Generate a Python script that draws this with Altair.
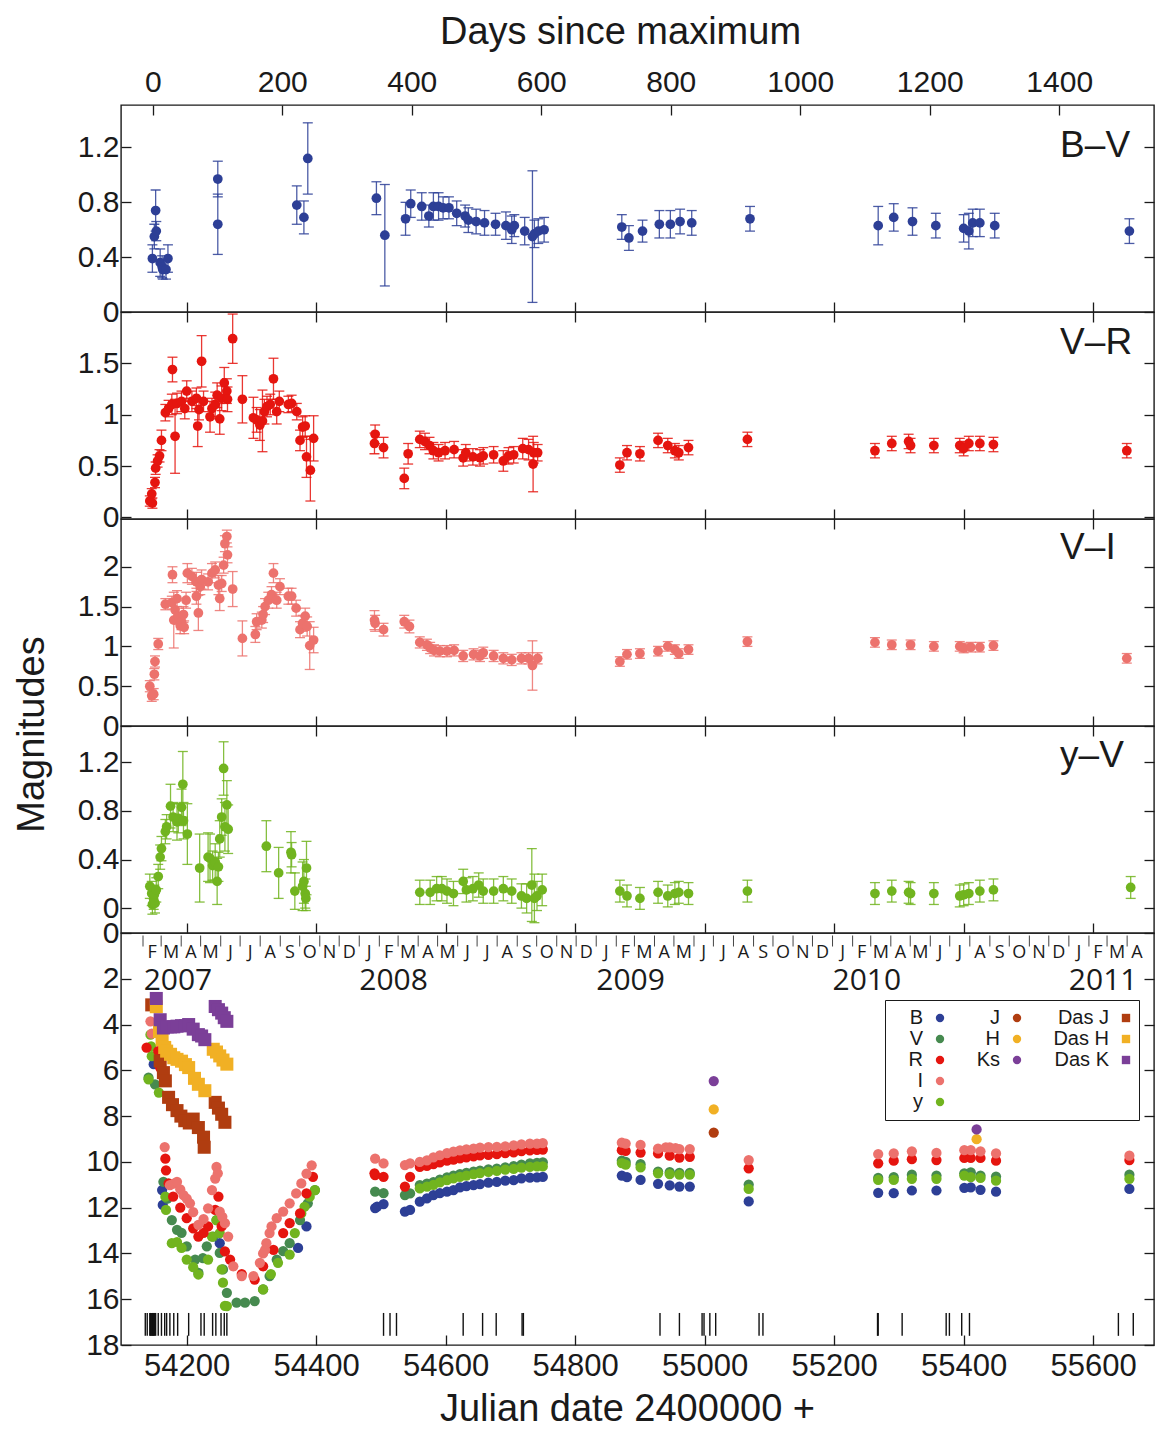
import altair as alt
import pandas as pd

# ------------------------------------------------------------------
# Values (x values are JD - 2400000)
# ------------------------------------------------------------------
JD_MAX = 54147.6
X_DOMAIN = [54098.5, 55694.0]
JD_TICKS = [54200, 54400, 54600, 54800, 55000, 55200, 55400, 55600]
DAY_TICKS = [0, 200, 400, 600, 800, 1000, 1200, 1400]

# ---- B-V ----
bv_jd = [54147, 54150, 54152, 54153, 54159, 54162, 54163, 54168, 54171, 54248, 54248, 54370, 54381, 54387,
         54493, 54506, 54538, 54546, 54563, 54574, 54581, 54589, 54596, 54605, 54617, 54630, 54635, 54647,
         54660, 54677, 54693, 54702, 54706, 54722, 54734, 54737, 54743, 54752, 54872, 54883, 54904, 54930,
         54947, 54962, 54980, 55070, 55268, 55292, 55321, 55357, 55400, 55408, 55414, 55425, 55448, 55656]
bv_val = [0.39, 0.55, 0.74, 0.59, 0.36, 0.33, 0.31, 0.31, 0.39, 0.97, 0.64, 0.78, 0.69, 1.12,
          0.83, 0.56, 0.68, 0.79, 0.77, 0.70, 0.77, 0.77, 0.76, 0.76, 0.72, 0.70, 0.67, 0.66,
          0.65, 0.64, 0.63, 0.60, 0.63, 0.59, 0.55, 0.57, 0.59, 0.60, 0.62, 0.54, 0.59, 0.64,
          0.64, 0.66, 0.65, 0.68, 0.63, 0.69, 0.66, 0.63, 0.61, 0.59, 0.65, 0.65, 0.63, 0.59]
bv_err = [0.10, 0.09, 0.15, 0.07, 0.10, 0.08, 0.07, 0.07, 0.10, 0.13, 0.22, 0.14, 0.12, 0.26,
          0.12, 0.37, 0.12, 0.10, 0.10, 0.08, 0.10, 0.10, 0.08, 0.08, 0.09, 0.08, 0.09, 0.09,
          0.09, 0.08, 0.10, 0.10, 0.08, 0.10, 0.48, 0.10, 0.09, 0.09, 0.09, 0.09, 0.08, 0.10,
          0.10, 0.09, 0.09, 0.09, 0.14, 0.10, 0.10, 0.09, 0.10, 0.13, 0.10, 0.10, 0.09, 0.09]

# ---- V-R ----
vr_jd = [54143, 54146, 54147, 54151, 54152, 54155, 54158, 54161, 54167, 54172,
         54177, 54178, 54182, 54185, 54192, 54197, 54200, 54208, 54215, 54217,
         54219, 54223, 54226, 54236, 54239, 54244, 54247, 54251, 54254, 54258,
         54262, 54263, 54271, 54286, 54303, 54308, 54313, 54317, 54320, 54324,
         54329, 54334, 54339, 54343, 54357, 54362, 54370, 54375, 54379, 54383,
         54385, 54391, 54396,
         54490, 54491, 54504, 54536, 54542, 54560, 54568, 54575, 54581, 54589,
         54599, 54613, 54627, 54631, 54642, 54653, 54658, 54674, 54689, 54697,
         54705, 54719, 54728, 54735, 54736, 54742,
         54869, 54880, 54900, 54928, 54943, 54954, 54960, 54975, 55066,
         55263, 55289, 55315, 55318, 55354, 55394, 55400, 55408, 55425, 55446, 55652]
vr_val = [0.16, 0.23, 0.14, 0.34, 0.48, 0.55, 0.60, 0.75, 1.02, 1.06,
          1.10, 1.44, 0.79, 1.11, 1.13, 1.06, 1.23, 1.13, 1.16, 0.89,
          1.05, 1.52, 1.13, 0.98, 1.06, 1.10, 1.19, 0.96, 1.16, 1.31,
          1.23, 1.15, 1.74, 1.15, 0.97, 0.95, 0.90, 0.94, 1.03, 1.08,
          1.10, 1.35, 1.03, 1.13, 1.10, 1.11, 1.03, 0.75, 0.88, 0.89,
          0.59, 0.46, 0.77,
          0.72, 0.81, 0.68, 0.38, 0.62, 0.76, 0.74, 0.70, 0.65, 0.63,
          0.65, 0.66, 0.58, 0.63, 0.59, 0.58, 0.60, 0.61, 0.55, 0.60,
          0.61, 0.67, 0.66, 0.52, 0.63, 0.63,
          0.51, 0.63, 0.62, 0.75, 0.70, 0.65, 0.63, 0.68, 0.76,
          0.65, 0.72, 0.74, 0.70, 0.70, 0.70, 0.67, 0.72, 0.72, 0.71, 0.65]
vr_err = [0.05, 0.05, 0.05, 0.05, 0.06, 0.06, 0.06, 0.10, 0.08, 0.08,
          0.10, 0.12, 0.36, 0.10, 0.10, 0.10, 0.10, 0.10, 0.10, 0.20,
          0.10, 0.25, 0.10, 0.15, 0.10, 0.12, 0.12, 0.15, 0.12, 0.15,
          0.12, 0.12, 0.24, 0.23, 0.20, 0.12, 0.15, 0.30, 0.12, 0.10,
          0.10, 0.20, 0.12, 0.10, 0.08, 0.08, 0.08, 0.10, 0.10, 0.10,
          0.20, 0.30, 0.22,
          0.10, 0.09, 0.10, 0.10, 0.10, 0.08, 0.08, 0.08, 0.08, 0.08,
          0.08, 0.08, 0.08, 0.08, 0.08, 0.08, 0.08, 0.08, 0.10, 0.08,
          0.08, 0.10, 0.10, 0.27, 0.10, 0.08,
          0.07, 0.07, 0.07, 0.07, 0.07, 0.07, 0.07, 0.07, 0.07,
          0.07, 0.07, 0.07, 0.07, 0.07, 0.07, 0.07, 0.07, 0.07, 0.07, 0.07]

# ---- V-I ----
vi_jd = [54143, 54146, 54149, 54150, 54151, 54156, 54167, 54177, 54178, 54180,
         54182, 54185, 54187, 54190, 54192, 54195, 54196, 54199, 54201, 54208,
         54215, 54215, 54218, 54221, 54223, 54233, 54239, 54244, 54249, 54251,
         54254, 54257, 54259, 54262, 54263, 54271, 54286, 54306, 54308, 54316,
         54318, 54321, 54326, 54331, 54334, 54339, 54344, 54357, 54362, 54369,
         54375, 54379, 54383, 54386, 54390, 54396,
         54490, 54491, 54504, 54536, 54544, 54560, 54571, 54576, 54582, 54591,
         54602, 54613, 54627, 54643, 54653, 54658, 54674, 54689, 54702, 54717,
         54728, 54734, 54742,
         54869, 54880, 54900, 54928, 54943, 54954, 54960, 54975, 55066, 55263,
         55289, 55318, 55354, 55394, 55400, 55411, 55425, 55446, 55652]
vi_val = [0.50, 0.38, 0.40, 0.65, 0.81, 1.03, 1.53, 1.55, 1.90, 1.33,
          1.46, 1.60, 1.38, 1.26, 1.31, 1.40, 1.24, 1.58, 1.92, 1.88,
          1.63, 1.81, 1.42, 1.75, 1.84, 1.81, 1.92, 1.96, 1.77, 1.60,
          1.79, 2.02, 2.29, 2.38, 2.15, 1.72, 1.10, 1.15, 1.31, 1.33,
          1.40, 1.50, 1.58, 1.65, 1.92, 1.58, 1.75, 1.63, 1.63, 1.48,
          1.21, 1.29, 1.38, 1.25, 1.01, 1.08,
          1.33, 1.29, 1.21, 1.31, 1.25, 1.05, 1.02, 0.98, 0.95, 0.94,
          0.94, 0.95, 0.88, 0.90, 0.88, 0.92, 0.88, 0.85, 0.83, 0.85,
          0.85, 0.76, 0.85,
          0.81, 0.90, 0.91, 0.94, 1.00, 0.96, 0.91, 0.96, 1.06, 1.05,
          1.02, 1.02, 1.00, 1.00, 0.98, 0.99, 0.99, 1.01, 0.85]
vi_err = [0.07, 0.07, 0.07, 0.07, 0.07, 0.07, 0.07, 0.08, 0.10, 0.35,
          0.10, 0.10, 0.10, 0.10, 0.10, 0.10, 0.08, 0.10, 0.12, 0.10,
          0.10, 0.12, 0.22, 0.10, 0.12, 0.10, 0.12, 0.10, 0.12, 0.15,
          0.10, 0.10, 0.10, 0.08, 0.10, 0.22, 0.22, 0.10, 0.10, 0.10,
          0.10, 0.10, 0.10, 0.10, 0.12, 0.10, 0.10, 0.10, 0.10, 0.10,
          0.10, 0.10, 0.10, 0.12, 0.30, 0.16,
          0.12, 0.10, 0.08, 0.08, 0.08, 0.07, 0.07, 0.07, 0.07, 0.07,
          0.07, 0.07, 0.07, 0.07, 0.07, 0.07, 0.07, 0.07, 0.07, 0.07,
          0.07, 0.31, 0.07,
          0.06, 0.06, 0.06, 0.06, 0.06, 0.06, 0.06, 0.06, 0.06, 0.06,
          0.06, 0.06, 0.06, 0.06, 0.06, 0.06, 0.06, 0.06, 0.06]

# ---- y-V ----
yv_jd = [54143, 54146, 54147, 54149, 54150, 54151, 54153, 54156, 54159, 54161,
         54167, 54169, 54175, 54179, 54185, 54187, 54192, 54194, 54195, 54201,
         54220, 54233, 54236, 54240, 54244, 54247, 54249, 54251, 54254, 54257,
         54259, 54262, 54264, 54323, 54342, 54361, 54362, 54367, 54379, 54381,
         54383, 54385, 54384,
         54560, 54576, 54586, 54594, 54602, 54612, 54627, 54632, 54642, 54651,
         54658, 54674, 54689, 54702, 54717, 54725, 54733, 54737, 54741, 54749,
         54869, 54880, 54900, 54928, 54943, 54954, 54960, 54975, 55066, 55263,
         55289, 55315, 55318, 55354, 55394, 55400, 55408, 55425, 55446, 55658]
yv_val = [0.18, 0.12, 0.03, 0.07, 0.11, 0.04, 0.15, 0.26, 0.42, 0.49,
          0.63, 0.67, 0.84, 0.75, 0.71, 0.74, 0.83, 1.02, 0.72, 0.61,
          0.33, 0.42, 0.41, 0.35, 0.38, 0.22, 0.34, 0.57, 0.75, 1.15,
          0.67, 0.85, 0.65, 0.51, 0.29, 0.46, 0.44, 0.14, 0.18, 0.22,
          0.12, 0.33, 0.08,
          0.13, 0.13, 0.16, 0.16, 0.14, 0.12, 0.22, 0.15, 0.16, 0.19,
          0.14, 0.14, 0.16, 0.14, 0.10, 0.08, 0.19, 0.08, 0.10, 0.15,
          0.14, 0.10, 0.08, 0.13, 0.10, 0.12, 0.13, 0.12, 0.14, 0.12,
          0.14, 0.13, 0.12, 0.12, 0.10, 0.11, 0.12, 0.14, 0.15, 0.17]
yv_err = [0.10, 0.10, 0.08, 0.08, 0.08, 0.08, 0.10, 0.10, 0.10, 0.10,
          0.10, 0.10, 0.18, 0.12, 0.15, 0.12, 0.15, 0.27, 0.15, 0.25,
          0.28, 0.20, 0.20, 0.12, 0.15, 0.19, 0.12, 0.15, 0.15, 0.22,
          0.20, 0.20, 0.20, 0.21, 0.21, 0.17, 0.10, 0.15, 0.20, 0.18,
          0.12, 0.22, 0.10,
          0.10, 0.10, 0.10, 0.10, 0.10, 0.10, 0.10, 0.10, 0.10, 0.10,
          0.10, 0.10, 0.10, 0.10, 0.10, 0.12, 0.30, 0.20, 0.12, 0.13,
          0.09, 0.09, 0.09, 0.09, 0.09, 0.09, 0.09, 0.09, 0.09, 0.09,
          0.09, 0.09, 0.09, 0.09, 0.09, 0.09, 0.09, 0.09, 0.09, 0.09]

# ---- light curves (magnitudes) ----
B_jd = [54149, 54162, 54163, 54251, 54372, 54385, 54491, 54494, 54504, 54537, 54545,
        54560, 54571, 54581, 54591, 54602, 54612, 54622, 54632, 54643, 54653,
        54666, 54679, 54692, 54705, 54717, 54730, 54741, 54750,
        54872, 54880, 54901, 54928, 54946, 54961, 54977, 55068,
        55268, 55292, 55320, 55358, 55401, 55411, 55426, 55450, 55656]
B_mag = [5.73, 11.23, 11.88, 13.55, 13.76, 12.82, 12.02, 11.95, 11.84, 12.17, 12.10,
         11.74, 11.59, 11.45, 11.37, 11.30, 11.23, 11.11, 11.06, 11.01, 10.97,
         10.91, 10.87, 10.82, 10.80, 10.72, 10.69, 10.68, 10.66,
         10.60, 10.67, 10.79, 10.96, 11.03, 11.08, 11.08, 11.73,
         11.35, 11.37, 11.25, 11.25, 11.13, 11.11, 11.22, 11.30, 11.18]

V_jd = [54141, 54151, 54164, 54170, 54177, 54185, 54192, 54200, 54213, 54218,
        54225, 54231, 54241, 54246, 54251, 54256, 54262, 54277, 54290, 54305,
        54318, 54328, 54339, 54349, 54359, 54375, 54387, 54398,
        54491, 54504, 54537, 54545,
        54560, 54571, 54581, 54591, 54602, 54612, 54622, 54632, 54643, 54653,
        54666, 54679, 54692, 54705, 54717, 54730, 54741, 54750,
        54872, 54878, 54901, 54928, 54946, 54961, 54977, 55068,
        55268, 55292, 55320, 55358, 55401, 55411, 55426, 55450, 55656]
V_mag = [6.32, 6.61, 10.87, 11.60, 12.54, 12.97, 13.10, 13.69, 14.27, 14.85,
         14.20, 13.69, 13.26, 12.54, 13.98, 14.70, 15.72, 16.15, 16.15, 16.08,
         15.57, 14.99, 14.27, 13.90, 13.55, 12.54, 11.81, 11.23,
         11.30, 11.37, 11.45, 11.38,
         11.01, 10.95, 10.88, 10.78, 10.68, 10.60, 10.53, 10.48, 10.43, 10.38,
         10.33, 10.29, 10.24, 10.18, 10.12, 10.07, 10.04, 10.02,
         9.95, 10.00, 10.10, 10.42, 10.45, 10.48, 10.48, 10.99,
         10.70, 10.67, 10.56, 10.60, 10.50, 10.46, 10.60, 10.64, 10.56]

Y_jd = [54141, 54144, 54145, 54146, 54157, 54167, 54168, 54177, 54185, 54192,
        54200, 54210, 54218, 54233, 54239, 54246, 54251, 54254, 54256, 54259,
        54262, 54318, 54330, 54341, 54359, 54367, 54377, 54382, 54390, 54398,
        54560, 54571, 54581, 54591, 54602, 54612, 54622, 54632, 54643, 54653,
        54666, 54679, 54692, 54705, 54717, 54730, 54741, 54750,
        54872, 54878, 54901, 54928, 54946, 54961, 54977, 55068,
        55268, 55292, 55320, 55358, 55401, 55411, 55426, 55450, 55656]
Y_mag = [6.39, 4.44, 4.95, 5.38, 6.97, 11.52, 12.10, 13.55, 13.50, 13.76,
         14.27, 14.60, 14.92, 14.27, 13.26, 12.54, 13.11, 14.70, 15.28, 16.29,
         16.30, 15.57, 14.90, 14.41, 14.05, 13.11, 12.25, 11.96, 11.52, 11.23,
         11.16, 11.08, 11.00, 10.90, 10.80, 10.72, 10.65, 10.60, 10.54, 10.49,
         10.44, 10.39, 10.34, 10.30, 10.25, 10.22, 10.20, 10.20,
         10.05, 10.12, 10.24, 10.50, 10.53, 10.56, 10.56, 11.18,
         10.79, 10.79, 10.74, 10.74, 10.60, 10.67, 10.70, 10.82, 10.74]

R_jd = [54138, 54156, 54159, 54167, 54168, 54172, 54179, 54190, 54200, 54210,
        54218, 54226, 54233, 54244, 54249, 54254, 54259, 54267, 54285, 54305,
        54318, 54334, 54349, 54359, 54375, 54385, 54395,
        54490, 54491, 54504, 54537, 54545,
        54560, 54571, 54581, 54591, 54602, 54612, 54622, 54632, 54643, 54653,
        54666, 54679, 54692, 54705, 54717, 54730, 54741, 54750,
        54872, 54878, 54901, 54928, 54946, 54961, 54977, 55068,
        55268, 55292, 55320, 55358, 55401, 55411, 55426, 55450, 55656]
R_mag = [5.01, 5.16, 5.88, 9.86, 10.37, 10.94, 11.52, 12.00, 12.46, 12.90,
         13.26, 13.10, 12.82, 12.10, 11.52, 12.82, 13.91, 14.27, 14.90, 15.14,
         14.56, 13.84, 13.11, 12.68, 12.25, 11.38, 10.65,
         10.50, 10.58, 10.65, 11.08, 10.65,
         10.22, 10.17, 10.10, 10.02, 9.95, 9.90, 9.85, 9.80, 9.76, 9.72,
         9.69, 9.66, 9.62, 9.58, 9.53, 9.50, 9.48, 9.46,
         9.49, 9.52, 9.59, 9.63, 9.73, 9.81, 9.78, 10.28,
         10.06, 9.95, 9.88, 9.92, 9.83, 9.83, 9.83, 9.95, 9.92]

I_jd = [54144, 54146, 54166, 54174, 54180, 54185, 54190, 54195, 54200, 54205,
        54210, 54218, 54226, 54233, 54239, 54244, 54246, 54248, 54251, 54255,
        54259, 54264, 54272, 54285, 54303, 54313, 54318, 54321, 54323, 54328,
        54331, 54339, 54349, 54359, 54369, 54377, 54385, 54393,
        54491, 54504, 54537, 54545,
        54560, 54571, 54581, 54591, 54602, 54612, 54622, 54632, 54643, 54653,
        54666, 54679, 54692, 54705, 54717, 54730, 54741, 54750,
        54872, 54878, 54901, 54928, 54940, 54946, 54955, 54961, 54977, 55068,
        55268, 55292, 55320, 55358, 55401, 55411, 55426, 55450, 55656]
I_mag = [3.86, 4.40, 9.35, 11.02, 10.95, 10.87, 11.20, 11.45, 11.60, 11.81,
         12.20, 12.75, 12.50, 12.03, 11.23, 10.73, 10.22, 10.50, 12.17, 12.40,
         12.68, 13.26, 14.56, 14.99, 14.99, 14.41, 14.00, 13.84, 13.55, 13.11,
         12.82, 12.46, 12.17, 11.81, 11.38, 10.94, 10.51, 10.15,
         9.86, 10.07, 10.14, 10.07,
         10.00, 9.93, 9.80, 9.71, 9.62, 9.55, 9.50, 9.45, 9.42, 9.38,
         9.36, 9.34, 9.32, 9.28, 9.23, 9.20, 9.20, 9.18,
         9.16, 9.20, 9.26, 9.42, 9.37, 9.37, 9.40, 9.44, 9.44, 9.92,
         9.66, 9.63, 9.54, 9.61, 9.49, 9.49, 9.54, 9.63, 9.73]

J_jd = [55014]
J_mag = [8.72]
H_jd = [55014, 55420]
H_mag = [7.71, 9.01]
K_jd = [55014, 55420]
K_mag = [6.47, 8.58]

dasJ_jd = [54146, 54159, 54164, 54167, 54172, 54178, 54185, 54191, 54197, 54204,
           54210, 54218, 54226, 54227, 54244, 54249, 54254, 54259]
dasJ_mag = [3.14, 5.59, 6.10, 6.46, 7.18, 7.50, 7.76, 8.00, 8.20, 8.30,
            8.13, 8.50, 8.92, 9.36, 7.40, 7.65, 7.92, 8.27]
dasH_jd = [54153, 54158, 54162, 54166, 54169, 54175, 54180, 54185, 54192, 54198,
           54203, 54212, 54218, 54228, 54241, 54246, 54251, 54256, 54262]
dasH_mag = [3.22, 4.30, 4.66, 5.00, 5.16, 5.30, 5.45, 5.52, 5.60, 5.75,
            5.88, 6.35, 6.61, 6.89, 5.08, 5.20, 5.37, 5.55, 5.73]
dasK_jd = [54153, 54159, 54164, 54170, 54175, 54180, 54185, 54192, 54198, 54203,
           54210, 54218, 54223, 54228, 54244, 54249, 54254, 54258, 54262]
dasK_mag = [2.86, 3.79, 4.15, 4.10, 4.10, 4.10, 4.07, 4.05, 4.05, 4.00,
            4.20, 4.44, 4.50, 4.66, 3.21, 3.35, 3.50, 3.70, 3.86]

# epochs marked by short vertical lines at the bottom of the light-curve panel
epoch_jd = [54136, 54139, 54143, 54144, 54145, 54146, 54147, 54148, 54149, 54150,
            54152, 54156, 54161, 54166, 54169, 54174, 54180, 54186, 54203, 54222,
            54227, 54240, 54245, 54253, 54258, 54262, 54504, 54514, 54524, 54627,
            54657, 54678, 54718, 54720, 54931, 54961, 54996, 54999, 55008, 55017,
            55084, 55090, 55267, 55268, 55305, 55373, 55378, 55397, 55409, 55639, 55662]

year_text = ["2007", "2008", "2009", "2010", "2011"]
year_date = ["2007-02-02", "2008-01-01", "2009-01-01", "2010-01-01", "2011-01-01"]
month_first, month_last = "2007-02-01", "2011-04-01"
MONTH_LETTERS = "JFMAMJJASOND"

panel_names = ["B\u2013V", "V\u2013R", "V\u2013I", "y\u2013V"]

# legend entries, filled column by column (5 rows x 3 columns; '_' entries are empty cells)
LEG_DOMAIN = ["B", "V", "R", "I", "y", "J", "H", "Ks", "_1", "_2", "Das J", "Das H", "Das K", "_3", "_4"]

# ------------------------------------------------------------------
# Style
# ------------------------------------------------------------------
FONT = "Liberation Sans"
FONT_CAL = "Open Sans"
INK = "#1a1a1a"
W, H, H5 = 1033, 207, 412

C_B, C_V, C_R, C_I, C_Y = "#2d3f96", "#468a4f", "#e5150f", "#ec726d", "#71b41f"
C_J, C_H, C_K = "#b03d10", "#f1b024", "#7b3f98"
TR = "transparent"
LEG_COLORS = [C_B, C_V, C_R, C_I, C_Y, C_J, C_H, C_K, TR, TR, C_J, C_H, C_K, TR, TR]
LEG_SHAPES = ["circle"] * 10 + ["square"] * 3 + ["circle"] * 2

XS = alt.Scale(domain=X_DOMAIN, nice=False, zero=False)


def jd_of(d):
    ts = pd.Timestamp(d)
    return (ts - pd.Timestamp("1858-11-17")) / pd.Timedelta(days=1) + 0.5


def tick_axis(orient, values, **kw):
    spec = dict(orient=orient, values=values, tickSize=10, offset=-10, domain=False, grid=False,
                ticks=True, tickColor=INK, tickWidth=1.3, labels=False, title=None)
    spec.update(kw)
    return alt.Axis(**spec)


def color_panel(jd, val, err, color, name, ydom, yvals, label_y, top_axis, left_extra=None):
    df = pd.DataFrame({"jd": jd, "val": val, "err": err})
    df["lo"] = df["val"] - df["err"]
    df["hi"] = df["val"] + df["err"]
    ys = alt.Scale(domain=ydom, nice=False, zero=False)
    left_kw = dict(labels=True, labelPadding=2, format="~g", labelFontSize=30)
    if left_extra:
        left_kw.update(left_extra)
    base = alt.Chart(df)
    bars = base.mark_rule(color=color, strokeWidth=1.3, opacity=0.85).encode(
        x=alt.X("jd:Q", scale=XS, axis=tick_axis("bottom", JD_TICKS)),
        y=alt.Y("lo:Q", scale=ys, axis=tick_axis("left", yvals, **left_kw)),
        y2="hi:Q",
    )
    cap_lo = base.mark_tick(orient="horizontal", size=10, thickness=1.3, color=color, opacity=0.85).encode(
        x=alt.X("jd:Q", scale=XS, axis=None), y=alt.Y("lo:Q", scale=ys, axis=None))
    cap_hi = base.mark_tick(orient="horizontal", size=10, thickness=1.3, color=color, opacity=0.85).encode(
        x=alt.X("jd:Q", scale=XS, axis=None), y=alt.Y("hi:Q", scale=ys, axis=None))
    pts = base.mark_circle(color=color, size=95, opacity=1).encode(
        x=alt.X("jd:Q", scale=XS, axis=top_axis),
        y=alt.Y("val:Q", scale=ys, axis=tick_axis("right", yvals)),
    )
    lab = alt.Chart(pd.DataFrame({"t": [name]})).mark_text(
        align="left", baseline="middle", font=FONT, fontSize=37, color=INK).encode(
        x=alt.XDatum(55549, type="quantitative", axis=None),
        y=alt.YDatum(label_y, type="quantitative", axis=None),
        text="t:N",
    )
    return (alt.layer(bars, cap_lo, cap_hi, pts, lab)
            .resolve_axis(x="independent", y="independent")
            .properties(width=W, height=H))


days_axis = tick_axis("top", [JD_MAX + d for d in DAY_TICKS], labels=True, labelFontSize=30,
                      labelExpr=f"format(datum.value - {JD_MAX}, 'd')", labelPadding=8,
                      title="Days since maximum", titleFontSize=38, titleX=499, titleY=-72,
                      titleBaseline="alphabetic", titleAngle=0)
top_ticks = tick_axis("top", JD_TICKS)

p1 = color_panel(bv_jd, bv_val, bv_err, C_B, panel_names[0], [0, 1.51], [0, 0.4, 0.8, 1.2], 1.21, days_axis)
p2 = color_panel(vr_jd, vr_val, vr_err, C_R, panel_names[1], [-0.015, 2.0], [0, 0.5, 1, 1.5], 1.70, top_ticks)
p3 = color_panel(vi_jd, vi_val, vi_err, C_I, panel_names[2], [0, 2.6], [0, 0.5, 1, 1.5, 2], 2.23, top_ticks)
p4 = color_panel(yv_jd, yv_val, yv_err, C_Y, panel_names[3], [-0.205, 1.5], [0, 0.4, 0.8, 1.2], 1.25, top_ticks,
                 left_extra=dict(title="Magnitudes", titleFontSize=38, titleX=-88, titleY=8,
                                 titleBaseline="alphabetic", titleAngle=270, titleAlign="center"))

# ---- light-curve panel ----
lc = pd.concat([pd.DataFrame({"band": b, "jd": j, "mag": m}) for b, j, m in [
    ("B", B_jd, B_mag), ("V", V_jd, V_mag), ("y", Y_jd, Y_mag), ("R", R_jd, R_mag),
    ("I", I_jd, I_mag), ("J", J_jd, J_mag), ("H", H_jd, H_mag), ("Ks", K_jd, K_mag)]],
    ignore_index=True)
das = pd.concat([pd.DataFrame({"band": b, "jd": j, "mag": m}) for b, j, m in [
    ("Das J", dasJ_jd, dasJ_mag), ("Das H", dasH_jd, dasH_mag), ("Das K", dasK_jd, dasK_mag)]],
    ignore_index=True)

starts = pd.date_range(month_first, month_last, freq="MS")
months = pd.DataFrame({
    "jd": [jd_of(s) for s in starts],
    "mid": [jd_of(s) + s.days_in_month / 2.0 for s in starts],
    "letter": [MONTH_LETTERS[s.month - 1] for s in starts],
})
years = pd.DataFrame({"jd": [jd_of(d) for d in year_date], "t": year_text})

YS5 = alt.Scale(domain=[0, 18], reverse=True, nice=False, zero=False)
MAG_TICKS = list(range(0, 19, 2))

leg = alt.Legend(title=" ", titleOrient="left", titleFontSize=4, titlePadding=37,
                 orient="none", legendX=764, legendY=67, columns=3, gridAlign="each",
                 labelExpr="indexof(datum.label, '_') == 0 ? '' : datum.label",
                 labelAlign="right", labelOffset={"expr": "-27"}, labelFont=FONT, labelFontSize=20,
                 labelColor=INK, symbolSize=70, symbolStrokeWidth=0, symbolOpacity=1,
                 rowPadding=1, columnPadding=31, padding=8, strokeColor=INK, fillColor="white")

color_enc = alt.Color("band:N", scale=alt.Scale(domain=LEG_DOMAIN, range=LEG_COLORS), legend=leg)
shape_enc = alt.Shape("band:N", scale=alt.Scale(domain=LEG_DOMAIN, range=LEG_SHAPES), legend=leg)

bottom5 = tick_axis("bottom", JD_TICKS, labels=True, labelFontSize=31, labelPadding=6, format="d",
                    title="Julian date 2400000 +", titleFontSize=38, titleX=506, titleY=85,
                    titleBaseline="alphabetic", titleAngle=0)
left5 = tick_axis("left", MAG_TICKS, labels=True, labelFontSize=30, labelPadding=2, format="~g")

pts5 = alt.Chart(lc).mark_point(filled=True, size=105, opacity=1).encode(
    x=alt.X("jd:Q", scale=XS, axis=bottom5),
    y=alt.Y("mag:Q", scale=YS5, axis=left5),
    color=color_enc, shape=shape_enc,
)
sq5 = alt.Chart(das).mark_point(filled=True, size=170, opacity=1).encode(
    x=alt.X("jd:Q", scale=XS, axis=None),
    y=alt.Y("mag:Q", scale=YS5, axis=tick_axis("right", MAG_TICKS)),
    color=color_enc, shape=shape_enc,
)
ep5 = alt.Chart(pd.DataFrame({"jd": epoch_jd})).mark_rule(color="#111111", strokeWidth=1.4).encode(
    x=alt.X("jd:Q", scale=XS, axis=None),
    y=alt.YDatum(16.6, type="quantitative", axis=None),
    y2=alt.Y2Datum(17.6),
)
mt5 = alt.Chart(months).mark_rule(color="#444444", strokeWidth=1).encode(
    x=alt.X("jd:Q", scale=XS, axis=None),
    y=alt.YDatum(0.11, type="quantitative", axis=None),
    y2=alt.Y2Datum(0.59),
)
ml5 = alt.Chart(months).mark_text(font=FONT_CAL, fontSize=18, color=INK, baseline="middle", align="center").encode(
    x=alt.X("mid:Q", scale=XS, axis=None),
    y=alt.YDatum(0.87, type="quantitative", axis=None),
    text="letter:N",
)
yl5 = alt.Chart(years).mark_text(font=FONT_CAL, fontSize=30, color=INK, baseline="middle", align="left").encode(
    x=alt.X("jd:Q", scale=XS, axis=None),
    y=alt.YDatum(2.09, type="quantitative", axis=None),
    text="t:N",
)

p5 = (alt.layer(pts5, sq5, ep5, mt5, ml5, yl5)
      .resolve_axis(x="independent", y="independent")
      .properties(width=W, height=H5))

chart = (alt.vconcat(p1, p2, p3, p4, p5, spacing=0, bounds="flush",
                     padding={"top": 4, "left": 4, "right": 0, "bottom": 0})
         .resolve_scale(color="independent", shape="independent")
         .configure(background="white")
         .configure_view(stroke=INK, strokeWidth=1.4)
         .configure_axis(labelFont=FONT, labelColor=INK, titleFont=FONT, titleFontWeight="normal",
                         titleColor=INK, labelOverlap=False, labelFlush=False))

chart.save("out.html", embed_options={"renderer": "svg", "actions": False})
